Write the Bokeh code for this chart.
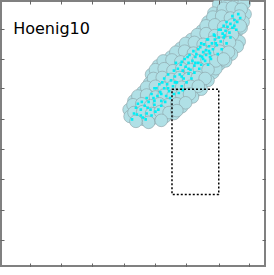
from bokeh.plotting import figure
from bokeh.models import Range1d, LinearAxis, FixedTicker, Label
from bokeh.embed import file_html
from bokeh.resources import INLINE

clump_x = [224, 233, 242, 250,
           219, 228, 237, 246, 251,
           213, 222, 231, 240, 249,
           207, 216, 225, 234, 243, 247,
           196, 205, 214, 223, 232, 241, 245,
           185, 194, 203, 212, 221, 230, 239, 243,
           175, 184, 193, 202, 211, 220, 229, 237,
           162, 171, 180, 189, 198, 207, 216, 225, 231,
           155, 164, 173, 182, 191, 200, 209, 218, 221,
           153, 161, 170, 179, 188, 197, 206, 213,
           146, 154, 163, 172, 181, 190, 199, 206,
           137, 145, 154, 163, 172, 181, 190, 197,
           132, 141, 150, 159, 168, 177, 186,
           133, 142, 151, 160, 169, 178,
           147, 156,
           229, 238, 247,
           218, 227, 236, 245,
           211, 220, 229, 238, 246,
           202, 211, 220, 229, 238,
           190, 199, 208, 217, 226, 235,
           180, 189, 198, 207, 216, 225, 234,
           167, 176, 185, 194, 203, 212, 221, 229,
           159, 168, 177, 186, 195, 204, 213,
           157, 166, 175, 184, 193, 202, 210,
           150, 159, 168, 177, 186, 195, 203,
           141, 150, 159, 168, 177, 186, 194,
           136, 145, 154, 163, 172, 181, 190,
           137, 146, 155, 164, 173, 181,
           139, 152, 165]
clump_y = [4, 2, 5, 3,
           13, 11, 13, 10, 14,
           22, 20, 22, 19, 22,
           31, 29, 31, 30, 31, 28,
           40, 38, 40, 38, 40, 39, 42,
           49, 47, 49, 47, 49, 48, 49, 47,
           58, 56, 58, 56, 58, 57, 58, 55,
           67, 65, 67, 65, 67, 66, 67, 65, 62,
           76, 74, 76, 74, 76, 75, 76, 74, 70,
           85, 83, 85, 83, 85, 84, 85, 82,
           94, 92, 94, 92, 94, 93, 94, 91,
           103, 101, 103, 101, 103, 102, 101, 99,
           112, 110, 112, 110, 112, 111, 109,
           119, 118, 120, 118, 119, 116,
           122, 121,
           8, 7, 9,
           17, 16, 18, 16,
           26, 25, 27, 25, 26,
           35, 34, 36, 34, 35,
           44, 43, 45, 43, 44, 43,
           53, 52, 54, 52, 53, 52, 53,
           62, 61, 63, 61, 62, 61, 62, 60,
           71, 70, 72, 70, 71, 70, 71,
           80, 79, 81, 79, 80, 79, 80,
           89, 88, 90, 88, 89, 88, 88,
           98, 97, 99, 97, 98, 97, 96,
           107, 106, 108, 106, 107, 106, 105,
           115, 114, 116, 114, 115, 113,
           124, 125, 123]

# Small points
pt_x = [244, 240, 243, 236, 238, 233, 231, 235, 228, 226, 240,
        224, 220, 226, 217, 222, 214, 218, 211, 215, 208, 213, 229, 205, 220, 209,
        205, 200, 208, 197, 203, 193, 199, 190, 195, 187, 211, 185, 201, 192, 206, 182, 215,
        184, 179, 188, 175, 181, 171, 177, 168, 173, 164, 193, 166, 186, 160,
        161, 157, 165, 152, 158, 148, 154, 144, 150, 140, 146, 135, 170, 162, 141,
        246, 238, 232, 242, 229, 236, 224, 232, 219, 227, 212, 223, 206, 216, 203,
        210, 198, 213, 194, 204, 189, 199, 186, 196, 180, 191, 178, 187, 172, 183,
        168, 178, 163, 174, 158, 169, 155, 165, 150, 159, 145, 155, 139, 149, 137,
        230, 221, 214, 207, 200, 193, 186, 179, 172, 165, 158, 151, 144]
pt_y = [14, 20, 22, 24, 28, 27, 31, 33, 34, 30, 26,
        38, 40, 42, 44, 46, 47, 50, 51, 54, 53, 40, 38, 48, 36, 45,
        57, 58, 60, 62, 64, 64, 67, 68, 71, 72, 56, 66, 55, 58, 66, 70, 58,
        76, 78, 80, 82, 84, 86, 88, 90, 93, 94, 75, 84, 88, 90,
        98, 100, 103, 104, 107, 108, 112, 112, 116, 117, 120, 122, 98, 112, 106,
        18, 16, 22, 30, 26, 38, 30, 44, 35, 50, 40, 55, 44, 60, 50,
        62, 52, 66, 56, 70, 60, 74, 63, 80, 64, 84, 72, 92, 76, 95,
        80, 96, 86, 100, 90, 104, 96, 108, 100, 114, 104, 118, 110, 122, 116,
        36, 44, 52, 58, 64, 70, 78, 84, 90, 96, 103, 110, 118]

# Selection box
box_left, box_right = 176, 224
box_top, box_bottom = 91, 199

# Tick positions
x_ticks = [30.7, 62.3, 94.7, 127.3, 159.3, 191.3, 224.3, 256]
y_ticks = [30, 60.7, 90.7, 122, 153, 184, 215, 246]

p = figure(width=266, height=267, x_range=Range1d(0, 273), y_range=Range1d(274, 0),
           output_backend="svg", toolbar_location=None,
           x_axis_location=None, y_axis_location=None, min_border=0)
p.grid.visible = False
p.background_fill_color = "white"
p.border_fill_color = "white"
p.outline_line_color = "#808080"
p.outline_line_width = 3

for loc, ticks in [("below", x_ticks), ("above", x_ticks), ("left", y_ticks), ("right", y_ticks)]:
    ax = LinearAxis(ticker=FixedTicker(ticks=ticks), major_tick_in=4, major_tick_out=0,
                    minor_tick_line_color=None, axis_line_color=None,
                    major_label_overrides={t: "" for t in ticks},
                    major_label_standoff=0,
                    major_tick_line_color="#666666", major_tick_line_width=1)
    p.add_layout(ax, loc)

p.circle(clump_x, clump_y, radius=6.5, fill_color="#b0e0e6", line_color="#8a9fa4",
         line_width=0.6)
p.scatter(pt_x, pt_y, marker="square", size=2.6, fill_color="#00eef5", line_color=None)
p.quad(left=[box_left], right=[box_right], top=[box_top], bottom=[box_bottom],
       fill_color=None, line_color="black", line_width=1.5, line_dash="2 2")

p.add_layout(Label(x=13, y=29, text="Hoenig10", text_font="DejaVu Sans",
                   text_font_size="16px", text_baseline="alphabetic", text_color="black"))

open("out.html", "w").write(file_html(p, INLINE))
